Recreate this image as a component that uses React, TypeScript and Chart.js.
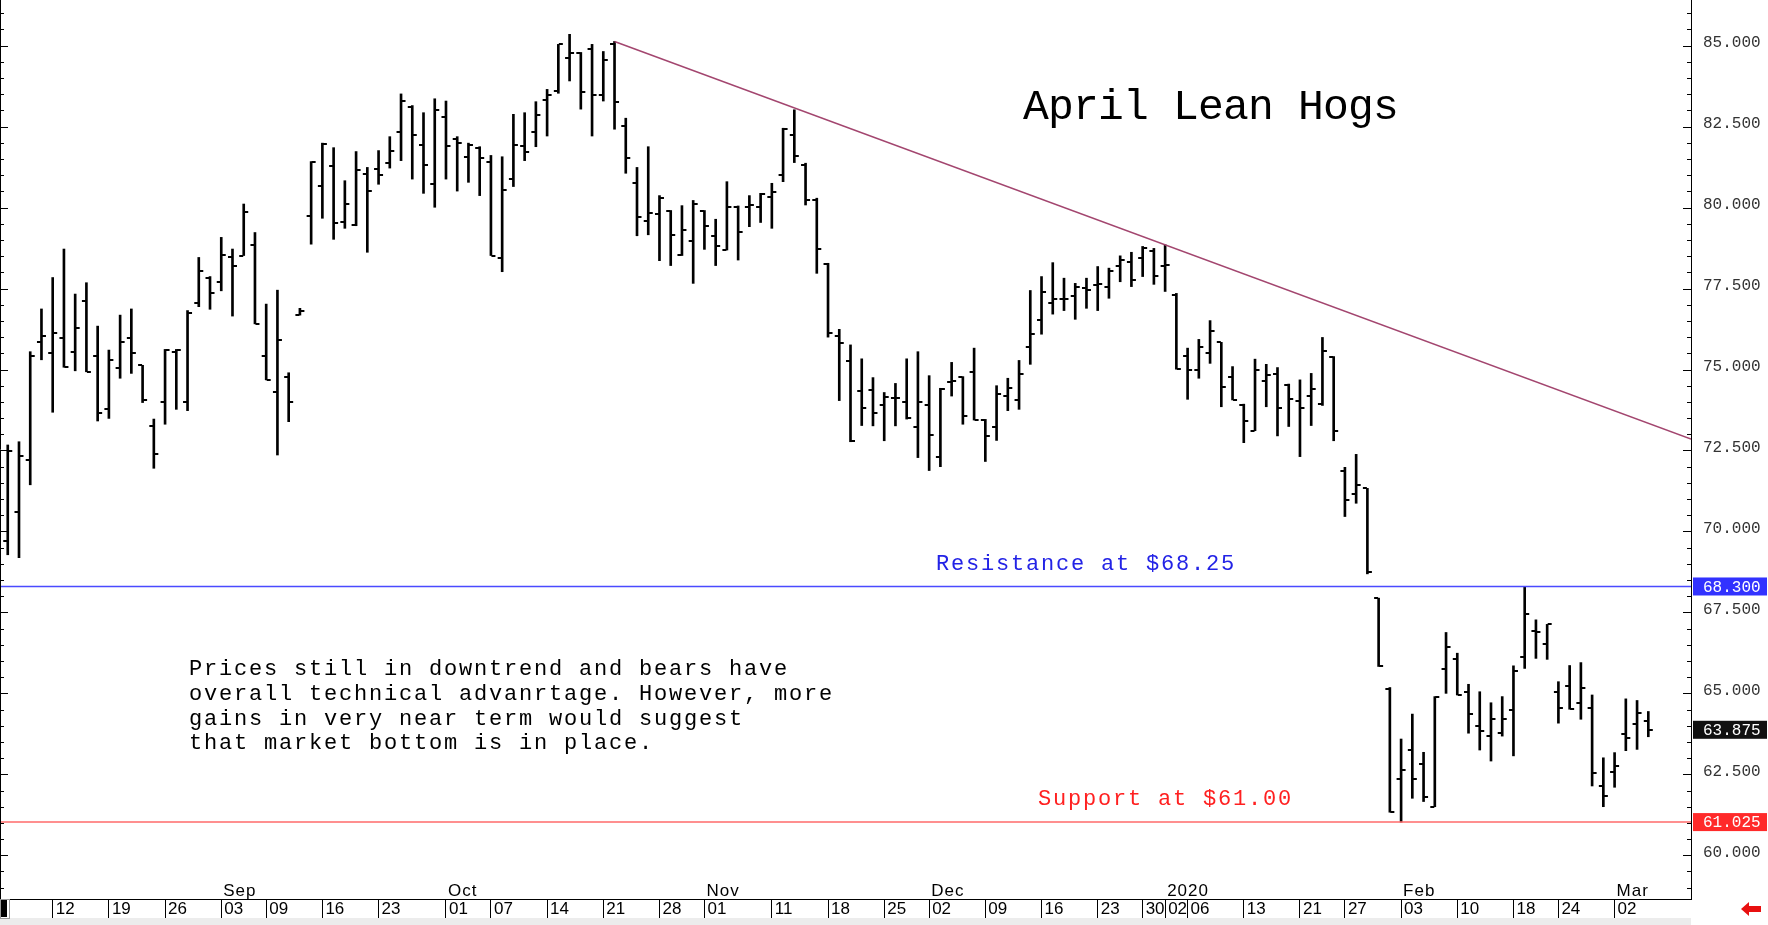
import React, { useEffect, useRef } from "react";
import { Chart, registerables } from "chart.js";

Chart.register(...registerables);

// ---------------- DATA ----------------
const dates: string[] = (
  "2019-08-06 2019-08-07 2019-08-08 2019-08-09 2019-08-12 2019-08-13 2019-08-14 2019-08-15 2019-08-16 " +
  "2019-08-19 2019-08-20 2019-08-21 2019-08-22 2019-08-23 2019-08-26 2019-08-27 2019-08-28 2019-08-29 2019-08-30 " +
  "2019-09-03 2019-09-04 2019-09-05 2019-09-06 2019-09-09 2019-09-10 2019-09-11 2019-09-12 2019-09-13 " +
  "2019-09-16 2019-09-17 2019-09-18 2019-09-19 2019-09-20 2019-09-23 2019-09-24 2019-09-25 2019-09-26 2019-09-27 2019-09-30 " +
  "2019-10-01 2019-10-02 2019-10-03 2019-10-04 2019-10-07 2019-10-08 2019-10-09 2019-10-10 2019-10-11 " +
  "2019-10-14 2019-10-15 2019-10-16 2019-10-17 2019-10-18 2019-10-21 2019-10-22 2019-10-23 2019-10-24 2019-10-25 " +
  "2019-10-28 2019-10-29 2019-10-30 2019-10-31 2019-11-01 2019-11-04 2019-11-05 2019-11-06 2019-11-07 2019-11-08 " +
  "2019-11-11 2019-11-12 2019-11-13 2019-11-14 2019-11-15 2019-11-18 2019-11-19 2019-11-20 2019-11-21 2019-11-22 " +
  "2019-11-25 2019-11-26 2019-11-27 2019-11-29 2019-12-02 2019-12-03 2019-12-04 2019-12-05 2019-12-06 " +
  "2019-12-09 2019-12-10 2019-12-11 2019-12-12 2019-12-13 2019-12-16 2019-12-17 2019-12-18 2019-12-19 2019-12-20 " +
  "2019-12-23 2019-12-24 2019-12-26 2019-12-27 2019-12-30 2019-12-31 2020-01-02 2020-01-03 " +
  "2020-01-06 2020-01-07 2020-01-08 2020-01-09 2020-01-10 2020-01-13 2020-01-14 2020-01-15 2020-01-16 2020-01-17 " +
  "2020-01-21 2020-01-22 2020-01-23 2020-01-24 2020-01-27 2020-01-28 2020-01-29 2020-01-30 2020-01-31 " +
  "2020-02-03 2020-02-04 2020-02-05 2020-02-06 2020-02-07 2020-02-10 2020-02-11 2020-02-12 2020-02-13 2020-02-14 " +
  "2020-02-18 2020-02-19 2020-02-20 2020-02-21 2020-02-24 2020-02-25 2020-02-26 2020-02-27 2020-02-28 " +
  "2020-03-02 2020-03-03 2020-03-04 2020-03-05"
).split(" ");

const opens: number[] = [
  69.69, 70.59, 72.2, 75.84, 75.5, 75.96, 75.53, 77.12, 75.42, 73.79, 75.04, 75.96, 75.13, 73.26, 73.99, 75.54, 74.01, 77.04, 77.82,
  77.69, 78.47, 78.52, 78.83, 75.42, 74.31, 74.76, 76.69, 79.74, 80.68, 81.27, 79.57, 79.46, 81.04, 81.19, 81.39, 82.33, 83.1, 81.94, 80.73,
  82.81, 82.12, 81.57, 81.83, 81.4, 78.44, 80.89, 81.91, 82.33, 83.33, 83.6, 84.63, 84.77, 84.89, 83.48, 85.04, 82.52, 80.75, 79.59,
  79.79, 79.88, 78.54, 78.98, 79.88, 79.12, 78.69, 80.03, 80.03, 80.03, 80.34, 81.01, 82.24, 81.32, 80.24, 78.25, 76.02, 75.26, 74.35, 74.37,
  73.91, 74.11, 74.01, 73.22, 73.91, 72.29, 74.6, 74.78, 74.91, 73.44, 73.21, 74.18, 74.06, 75.69, 76.53, 77.05, 77.18, 77.27, 77.51,
  77.61, 77.56, 78.2, 78.31, 78.44, 78.67, 78.21, 77.3, 75.42, 74.99, 75.5, 75.84, 74.78, 73.91, 73.11, 74.66, 74.86, 74.52,
  74.03, 74.19, 73.93, 75.4, 71.88, 71.15, 71.33, 67.94, 65.14, 62.36, 63.25, 62.82, 61.5, 65.74, 66.05, 65.03, 64.0, 63.68, 63.79,
  64.49, 66.11, 66.93, 66.51, 65.03, 65.23, 64.69, 64.54, 62.14, 62.58, 63.74, 64.04, 64.15,
];
const highs: number[] = [
  72.67, 72.77, 75.55, 76.87, 77.84, 78.72, 77.33, 77.68, 76.34, 75.6, 76.68, 76.87, 75.13, 73.47, 75.62, 75.62, 76.82, 78.46, 77.87,
  79.08, 78.72, 80.11, 79.23, 77.02, 77.45, 74.9, 76.89, 81.42, 81.99, 81.85, 80.83, 81.73, 81.24, 81.76, 82.19, 83.51, 83.15, 82.93, 83.36,
  83.29, 82.19, 81.99, 81.88, 81.61, 81.57, 82.88, 82.93, 83.27, 83.65, 85.04, 85.35, 84.79, 85.04, 84.82, 85.13, 82.76, 81.24, 81.88,
  80.37, 79.91, 80.06, 80.22, 79.91, 79.64, 80.8, 80.05, 80.37, 80.44, 80.75, 82.45, 83.02, 81.37, 80.29, 78.28, 76.24, 75.76, 75.33, 74.75,
  74.29, 74.57, 75.33, 75.55, 74.81, 74.42, 75.22, 74.78, 75.66, 73.46, 74.5, 74.73, 75.28, 77.44, 77.87, 78.3, 77.82, 77.66, 77.82,
  78.18, 78.13, 78.51, 78.62, 78.8, 78.74, 78.85, 77.35, 75.66, 75.93, 76.51, 75.84, 75.09, 73.93, 75.32, 75.16, 75.06, 74.55,
  74.68, 74.88, 75.99, 75.4, 71.98, 72.38, 71.33, 67.94, 65.18, 63.59, 64.36, 63.18, 64.9, 66.88, 66.24, 65.28, 65.05, 64.71, 64.9,
  65.85, 68.3, 67.27, 67.13, 65.36, 65.86, 65.95, 64.95, 63.01, 63.17, 64.83, 64.78, 64.44,
];
const lows: number[] = [
  69.28, 69.19, 71.44, 75.3, 73.68, 75.07, 74.96, 74.93, 73.41, 73.49, 74.73, 74.88, 73.98, 71.95, 73.31, 73.77, 73.73, 76.94, 76.86,
  77.43, 76.65, 78.52, 76.41, 74.68, 72.36, 73.39, 76.68, 78.87, 79.67, 79.02, 79.36, 79.44, 78.62, 80.72, 81.22, 81.45, 80.88, 80.44, 80.01,
  80.88, 80.51, 80.78, 80.37, 78.52, 78.02, 80.65, 81.45, 81.88, 82.21, 83.53, 83.91, 83.04, 82.21, 83.29, 82.42, 81.06, 79.13, 79.16,
  78.36, 78.21, 78.52, 77.66, 78.71, 78.21, 78.69, 78.38, 79.41, 79.54, 79.36, 80.8, 81.39, 80.08, 77.97, 76.0, 74.04, 72.77, 73.27, 73.26,
  72.8, 73.26, 73.47, 72.28, 71.88, 72.0, 74.18, 73.31, 73.44, 72.16, 72.81, 73.73, 73.77, 75.16, 76.09, 76.71, 76.82, 76.55, 76.89,
  76.82, 77.2, 77.71, 77.56, 77.87, 77.63, 77.41, 75.01, 74.08, 74.73, 75.19, 73.85, 74.06, 72.74, 73.11, 73.85, 72.95, 73.24,
  72.31, 73.27, 73.89, 72.8, 70.46, 70.87, 68.69, 65.83, 61.33, 61.025, 61.76, 61.66, 61.5, 65.0, 64.95, 63.77, 63.25, 62.91, 63.68,
  63.07, 65.77, 66.08, 66.05, 64.08, 64.51, 64.2, 62.14, 61.5, 62.1, 63.23, 63.27, 63.66,
];
const closes: number[] = [
  72.49, 72.33, 75.42, 76.05, 76.12, 75.07, 76.27, 74.93, 73.65, 75.3, 75.84, 75.5, 74.06, 72.39, 75.6, 75.59, 76.74, 78.05, 77.35,
  78.54, 78.2, 79.85, 76.41, 74.68, 75.91, 74.0, 76.81, 81.4, 81.96, 79.52, 80.1, 81.16, 80.51, 81.01, 81.75, 83.3, 82.24, 81.32, 83.02,
  81.91, 81.99, 81.94, 81.52, 78.52, 80.55, 81.94, 81.71, 82.86, 83.48, 85.04, 84.77, 83.56, 83.48, 84.56, 83.27, 81.52, 79.7, 79.82,
  80.31, 79.16, 79.31, 80.1, 79.43, 78.82, 80.03, 79.24, 80.08, 80.41, 80.49, 82.43, 81.6, 80.24, 78.72, 76.14, 75.83, 72.8, 73.8, 73.65,
  74.16, 74.12, 73.49, 73.99, 72.98, 74.39, 74.63, 73.57, 73.44, 72.95, 74.24, 74.42, 74.85, 76.1, 77.39, 77.18, 77.17, 77.54, 77.46,
  77.63, 78.05, 78.38, 77.77, 78.74, 77.89, 78.23, 75.01, 74.99, 75.69, 76.19, 74.45, 74.06, 73.41, 74.99, 74.83, 73.82, 74.08,
  73.82, 74.39, 75.58, 73.1, 70.97, 71.44, 68.76, 65.83, 61.34, 62.63, 62.36, 61.79, 64.9, 66.42, 64.95, 64.36, 63.84, 64.21, 64.21,
  65.69, 67.44, 66.88, 67.13, 64.54, 64.51, 65.16, 62.53, 61.83, 62.77, 63.61, 64.38, 63.875,
];

const dayTickDates: string[] = [
  "2019-08-12", "2019-08-19", "2019-08-26", "2019-09-03", "2019-09-09", "2019-09-16", "2019-09-23",
  "2019-10-01", "2019-10-07", "2019-10-14", "2019-10-21", "2019-10-28", "2019-11-01", "2019-11-11",
  "2019-11-18", "2019-11-25", "2019-12-02", "2019-12-09", "2019-12-16", "2019-12-23", "2019-12-30",
  "2020-01-02", "2020-01-06", "2020-01-13", "2020-01-21", "2020-01-27", "2020-02-03", "2020-02-10",
  "2020-02-18", "2020-02-24", "2020-03-02",
];
const monthTickDates: string[] = ["2019-09-03", "2019-10-01", "2019-11-01", "2019-12-02", "2020-01-02", "2020-02-03", "2020-03-02"];
const monthTickLabels: string[] = ["Sep", "Oct", "Nov", "Dec", "2020", "Feb", "Mar"];
const priceTicks: number[] = [60, 62.5, 65, 67.5, 70, 72.5, 75, 77.5, 80, 82.5, 85];

const trendStartDate = "2019-10-22";
const trendValues: number[] = [85.13, 72.85]; // at start bar, at right edge
const resistanceLevel = 68.3;
const supportLevel = 61.025;
const lastPrice = 63.875;

const titleText = "April Lean Hogs";
const noteLines: string[] = [
  "Prices still in downtrend and bears have",
  "overall technical advanrtage. However, more",
  "gains in very near term would suggest",
  "that market bottom is in place.",
];
const resistanceText = "Resistance at $68.25";
const supportText = "Support at $61.00";

// ---------------- LAYOUT / STYLE ----------------
const W = 1768;
const H = 925;
const X_MIN = -0.69;
const X_MAX = 149.8;
const Y_MIN = 58.65;
const Y_MAX = 86.41;
const FONT_MONO = '"Liberation Mono", "DejaVu Sans Mono", monospace';
const FONT_NARROW = '"Liberation Sans Narrow", "Arial Narrow", "Liberation Sans", sans-serif';

export default function App() {
  const ref = useRef<HTMLCanvasElement>(null);

  useEffect(() => {
    const canvas = ref.current;
    if (!canvas) return;
    const idxOf = (d: string) => dates.indexOf(d);
    const dayTickIdx = dayTickDates.map(idxOf);
    const dayTickLabels = dayTickDates.map((d) => d.slice(8));
    const monthTickIdx = monthTickDates.map(idxOf);
    const trendStartIdx = idxOf(trendStartDate);

    const setSpacing = (ctx: any, v: string) => {
      if ("letterSpacing" in ctx) ctx.letterSpacing = v;
    };

    const decor = {
      id: "decor",
      beforeDraw(chart: any) {
        const ctx = chart.ctx;
        ctx.save();
        ctx.fillStyle = "#ffffff";
        ctx.fillRect(0, 0, W, H);
        ctx.fillStyle = "#ececec";
        ctx.fillRect(0, 918, 1691, H - 918);
        ctx.restore();
      },
      afterDatasetsDraw(chart: any) {
        const ctx = chart.ctx;
        const xs = chart.scales.x;
        const ys = chart.scales.y;
        const a = chart.chartArea;
        ctx.save();
        ctx.beginPath();
        ctx.rect(a.left, a.top, a.right - a.left, a.bottom - a.top);
        ctx.clip();
        ctx.fillStyle = "#000";
        for (let i = 0; i < dates.length; i++) {
          const px = xs.getPixelForValue(i);
          const po = Math.round(ys.getPixelForValue(opens[i]));
          const pc = Math.round(ys.getPixelForValue(closes[i]));
          ctx.fillRect(px - 4.5, po - 1, 4, 2);
          ctx.fillRect(px + 0.5, pc - 1, 4, 2);
        }
        ctx.restore();
      },
      afterDraw(chart: any) {
        const ctx = chart.ctx;
        const xs = chart.scales.x;
        const ys = chart.scales.y;
        const a = chart.chartArea;
        ctx.save();
        // left border with ticks, inward ticks of the price axis
        ctx.strokeStyle = "#000";
        ctx.lineWidth = 1;
        ctx.beginPath();
        ctx.moveTo(a.left + 0.5, a.top);
        ctx.lineTo(a.left + 0.5, a.bottom);
        for (let v = 59; v <= 86; v += 0.5) {
          const py = Math.round(ys.getPixelForValue(v)) + 0.5;
          const major = Math.abs(v / 2.5 - Math.round(v / 2.5)) < 1e-6;
          ctx.moveTo(a.left, py);
          ctx.lineTo(a.left + (major ? 8 : 4), py);
          ctx.moveTo(a.right, py);
          ctx.lineTo(a.right - (major ? 8 : 4), py);
        }
        ctx.stroke();

        // value boxes on the price axis
        const boxes: [number, string][] = [
          [resistanceLevel, "#3232ff"],
          [lastPrice, "#111111"],
          [supportLevel, "#ff2a2a"],
        ];
        ctx.font = `16px ${FONT_MONO}`;
        ctx.textBaseline = "middle";
        ctx.textAlign = "left";
        for (const [v, c] of boxes) {
          const py = ys.getPixelForValue(v);
          ctx.fillStyle = c;
          ctx.fillRect(a.right + 2, py - 9, W - a.right - 3, 18);
          ctx.fillStyle = "#ffffff";
          ctx.fillText(v.toFixed(3), a.right + 12, py + 1);
        }

        // month labels
        ctx.fillStyle = "#000";
        ctx.font = `17px ${FONT_NARROW}`;
        ctx.textBaseline = "alphabetic";
        setSpacing(ctx, "1px");
        monthTickIdx.forEach((ix, k) => {
          ctx.fillText(monthTickLabels[k], xs.getPixelForValue(ix) + 2, 896);
        });
        setSpacing(ctx, "0px");

        // title
        ctx.font = `43px ${FONT_MONO}`;
        setSpacing(ctx, "-0.8px");
        ctx.fillStyle = "#000";
        ctx.fillText(titleText, 1023, 119);

        // note
        ctx.font = `22px ${FONT_MONO}`;
        setSpacing(ctx, "1.8px");
        noteLines.forEach((t, k) => ctx.fillText(t, 189, 675 + k * 24.8));

        // resistance / support
        ctx.fillStyle = "#2323e6";
        ctx.fillText(resistanceText, 936, 570);
        ctx.fillStyle = "#ff2020";
        ctx.fillText(supportText, 1038, 805);
        setSpacing(ctx, "0px");

        // bottom-left marker
        ctx.fillStyle = "#000";
        ctx.fillRect(1, 900, 6, 17);
        ctx.strokeStyle = "#999";
        ctx.strokeRect(0.5, 899.5, 9, 19);

        // red arrow bottom right
        ctx.fillStyle = "#e81010";
        ctx.beginPath();
        ctx.moveTo(1741, 909);
        ctx.lineTo(1749, 902);
        ctx.lineTo(1749, 906);
        ctx.lineTo(1761, 906);
        ctx.lineTo(1761, 912);
        ctx.lineTo(1749, 912);
        ctx.lineTo(1749, 916);
        ctx.closePath();
        ctx.fill();
        ctx.restore();
      },
    };

    const chart = new Chart(canvas, {
      type: "bar",
      data: {
        datasets: [
          {
            type: "line",
            label: "Trend",
            data: [
              { x: trendStartIdx, y: trendValues[0] },
              { x: X_MAX, y: trendValues[1] },
            ],
            borderColor: "#a3466f",
            borderWidth: 1.5,
            pointRadius: 0,
            fill: false,
            order: 0,
          },
          {
            type: "line",
            label: "Resistance",
            data: [
              { x: X_MIN, y: resistanceLevel },
              { x: X_MAX, y: resistanceLevel },
            ],
            borderColor: "#4a4aff",
            borderWidth: 1.5,
            pointRadius: 0,
            fill: false,
            order: 0,
          },
          {
            type: "line",
            label: "Support",
            data: [
              { x: X_MIN, y: supportLevel },
              { x: X_MAX, y: supportLevel },
            ],
            borderColor: "#ff6a6a",
            borderWidth: 1.5,
            pointRadius: 0,
            fill: false,
            order: 0,
          },
          {
            type: "bar",
            label: "April Lean Hogs",
            data: dates.map((d, i) => ({ x: i, y: [lows[i], highs[i]] })) as any,
            backgroundColor: "#000",
            borderWidth: 0,
            barThickness: 2,
            grouped: false,
            order: 1,
          },
        ] as any,
      },
      options: {
        animation: false,
        responsive: false,
        maintainAspectRatio: false,
        devicePixelRatio: 1,
        layout: { padding: 0, autoPadding: false },
        plugins: { legend: { display: false }, tooltip: { enabled: false } },
        scales: {
          x: {
            type: "linear",
            position: "bottom",
            offset: false,
            min: X_MIN,
            max: X_MAX,
            afterFit: (s: any) => {
              s.height = 26;
              s.paddingLeft = 0;
              s.paddingRight = 0;
            },
            afterBuildTicks: (s: any) => {
              s.ticks = dayTickIdx.map((v) => ({ value: v }));
            },
            ticks: {
              autoSkip: false,
              maxRotation: 0,
              minRotation: 0,
              align: "start",
              labelOffset: 3,
              padding: -19,
              color: "#000",
              font: { family: FONT_NARROW, size: 17 },
              callback: (_v: any, i: number) => dayTickLabels[i],
            },
            grid: { drawOnChartArea: false, drawTicks: true, tickLength: 19, color: "#000", lineWidth: 1, offset: false },
            border: { display: true, color: "#000", width: 1 },
          },
          y: {
            type: "linear",
            position: "right",
            min: Y_MIN,
            max: Y_MAX,
            afterFit: (s: any) => {
              s.width = 77;
              s.paddingTop = 0;
              s.paddingBottom = 0;
            },
            afterBuildTicks: (s: any) => {
              s.ticks = priceTicks.map((v) => ({ value: v }));
            },
            ticks: {
              padding: 12,
              labelOffset: -3,
              color: "#333",
              font: { family: FONT_MONO, size: 16 },
              callback: (v: any) => Number(v).toFixed(3),
            },
            grid: { drawOnChartArea: false, drawTicks: false },
            border: { display: true, color: "#000", width: 1 },
          },
        },
      } as any,
      plugins: [decor],
    });
    return () => chart.destroy();
  }, []);

  return (
    <div style={{ position: "absolute", left: 0, top: 0, width: W, height: H }}>
      <canvas ref={ref} width={W} height={H} style={{ display: "block", width: W, height: H }} />
    </div>
  );
}
